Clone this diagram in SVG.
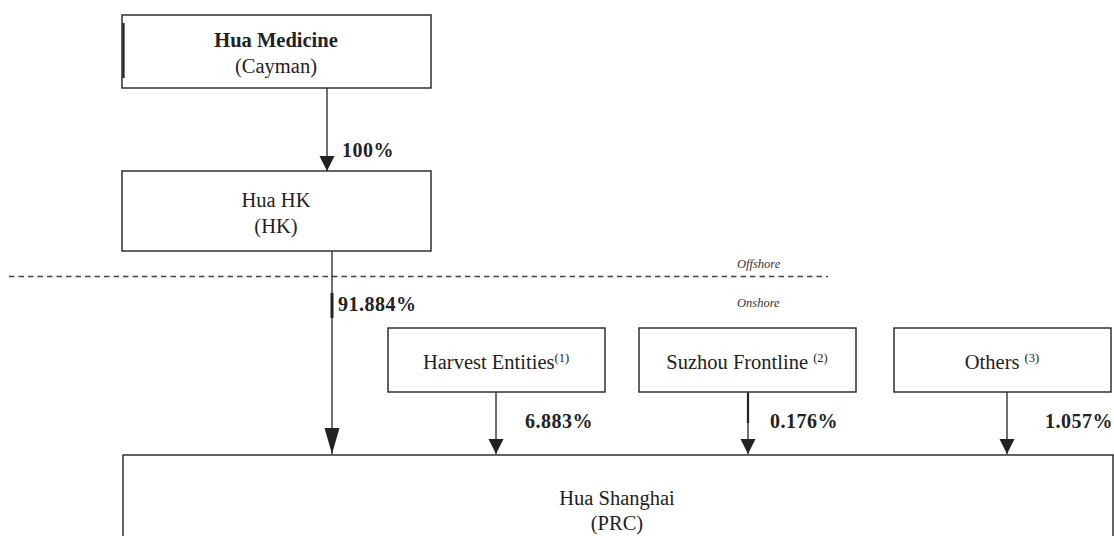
<svg xmlns="http://www.w3.org/2000/svg" width="1114" height="536" viewBox="0 0 1114 536">
<style>
.box{fill:#fff;stroke:#222;stroke-width:1.4}
.t{font-family:"Liberation Serif","Times New Roman",serif;font-size:20.5px;fill:#222;text-anchor:middle}
.b{font-weight:bold}
.lbl{font-family:"Liberation Serif","Times New Roman",serif;font-size:20px;font-weight:bold;fill:#222;letter-spacing:0.5px}
.it{font-family:"Liberation Serif","Times New Roman",serif;font-size:12.5px;font-style:italic;fill:#333}
.sup{font-size:12.5px}
.c{stroke:#222;stroke-width:1.3;fill:none}
</style>
<defs>
<marker id="ah" markerUnits="userSpaceOnUse" markerWidth="16" markerHeight="16" refX="15" refY="7.5" orient="auto">
<path d="M0,0 L15,7.5 L0,15 Z" fill="#222"/>
</marker>
<marker id="ahL" markerUnits="userSpaceOnUse" markerWidth="27" markerHeight="16" refX="26" refY="7.5" orient="auto">
<path d="M0,0 L26,7.5 L0,15 Z" fill="#222"/>
</marker>
</defs>

<g id="node-hua-medicine">
<rect class="box" x="122" y="15" width="309" height="73"/>
<line x1="123.5" y1="23" x2="123.5" y2="78" stroke="#222" stroke-width="2.2"/>
<text class="t b" x="276" y="47">Hua Medicine</text>
<text class="t" x="276" y="73">(Cayman)</text>
</g>

<g id="node-hua-hk">
<rect class="box" x="122" y="171" width="309" height="80"/>
<text class="t" x="276" y="207">Hua HK</text>
<text class="t" x="276" y="233">(HK)</text>
</g>

<g id="node-harvest">
<rect class="box" x="388" y="328" width="217" height="64"/>
<text class="t" x="496" y="369">Harvest Entities<tspan class="sup" dy="-7">(1)</tspan></text>
</g>

<g id="node-suzhou">
<rect class="box" x="639" y="328" width="217" height="64"/>
<text class="t" x="747" y="369">Suzhou Frontline <tspan class="sup" dy="-7">(2)</tspan></text>
</g>

<g id="node-others">
<rect class="box" x="894" y="328" width="217" height="64"/>
<text class="t" x="1002" y="369">Others <tspan class="sup" dy="-7">(3)</tspan></text>
</g>

<g id="node-hua-shanghai">
<rect class="box" x="123" y="455" width="990" height="100"/>
<text class="t" x="617" y="505">Hua Shanghai</text>
<text class="t" x="617" y="530">(PRC)</text>
</g>

<g id="boundary">
<line x1="9" y1="276.5" x2="828" y2="276.5" stroke="#444" stroke-width="1.4" stroke-dasharray="5.5,4"/>
<text class="it" x="737" y="268">Offshore</text>
<text class="it" x="737" y="307">Onshore</text>
</g>

<g id="connectors">
<line class="c" x1="327" y1="88" x2="327" y2="171" marker-end="url(#ah)"/>
<line class="c" x1="332" y1="251" x2="332" y2="454" marker-end="url(#ahL)"/>
<line x1="332" y1="293" x2="332" y2="318" stroke="#222" stroke-width="3"/>
<line class="c" x1="496" y1="392" x2="496" y2="454" marker-end="url(#ah)"/>
<line class="c" x1="748" y1="392" x2="748" y2="454" marker-end="url(#ah)"/>
<line x1="748" y1="393" x2="748" y2="423" stroke="#222" stroke-width="2.2"/>
<line class="c" x1="1007" y1="392" x2="1007" y2="454" marker-end="url(#ah)"/>
<text class="lbl" x="342" y="157">100%</text>
<text class="lbl" x="338" y="311">91.884%</text>
<text class="lbl" x="525" y="428">6.883%</text>
<text class="lbl" x="770" y="428">0.176%</text>
<text class="lbl" x="1045" y="428">1.057%</text>
</g>
</svg>
